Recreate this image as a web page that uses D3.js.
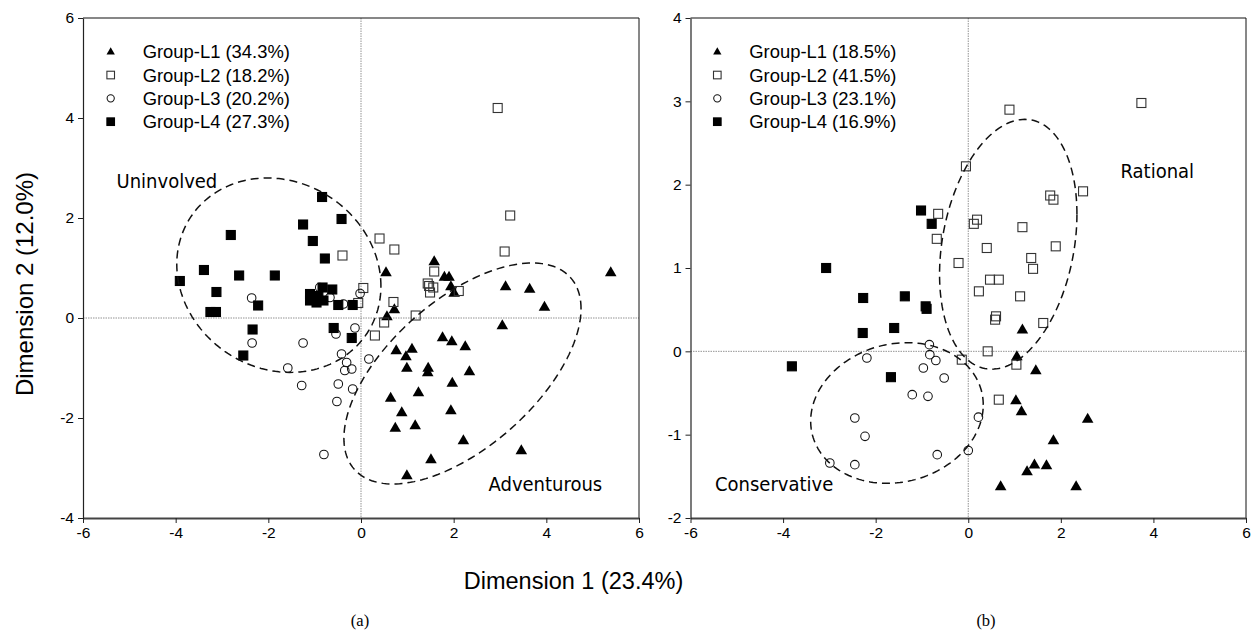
<!DOCTYPE html>
<html><head><meta charset="utf-8">
<script src="https://cdn.jsdelivr.net/npm/d3@7"></script>
<style>
body{margin:0;background:#fff;}
svg{display:block;}
</style></head><body>
<svg id="chart" width="1259" height="633"></svg>
<script>
// ---------- data ----------
const xTicks = [-6, -4, -2, 0, 2, 4, 6];
const yTicksA = [-4, -2, 0, 2, 4, 6];
const yTicksB = [-2, -1, 0, 1, 2, 3, 4];
const groupNames = ["Group-L1", "Group-L2", "Group-L3", "Group-L4"];
const sharesA = ["34.3%", "18.2%", "20.2%", "27.3%"];
const sharesB = ["18.5%", "41.5%", "23.1%", "16.9%"];
const xTitle = "Dimension 1 (23.4%)";
const yTitle = "Dimension 2 (12.0%)";
const panelLabels = ["(a)", "(b)"];

// panel (a) points
const aL1 = [[0.54,0.91],[0.72,0.17],[0.56,0.03],[0.76,-0.65],[0.97,-0.77],[0.99,-1.0],[1.10,-0.62],[0.64,-1.6],[0.88,-1.89],[0.74,-2.2],[1.17,-2.15],[0.99,-3.15],[1.51,-2.83],[1.24,-1.49],[1.45,-1.0],[1.44,-1.09],[1.76,-0.39],[1.96,-0.47],[2.25,-0.57],[2.34,-1.07],[1.97,-1.3],[1.94,-1.85],[2.21,-2.45],[3.46,-2.65],[3.05,-0.15],[3.12,0.63],[3.64,0.58],[3.96,0.22],[5.39,0.91],[1.58,1.13],[1.80,0.82],[1.90,0.82],[1.94,0.63],[2.01,0.5]];
const aL2 = [[2.95,4.2],[3.22,2.05],[3.10,1.33],[-0.40,1.25],[0.40,1.59],[0.72,1.37],[0.05,0.6],[-0.06,0.3],[0.70,0.32],[1.58,0.93],[1.44,0.69],[1.56,0.61],[1.49,0.51],[1.47,0.64],[2.11,0.54],[1.18,0.05],[0.50,-0.09],[0.30,-0.35]];
const aL3 = [[-2.36,0.40],[-2.35,-0.5],[-1.25,-0.5],[-1.58,-1.0],[-1.28,-1.35],[-0.80,-2.73],[-0.89,0.61],[-0.67,0.41],[-0.38,0.28],[-0.02,0.49],[-0.54,-0.32],[-0.13,-0.2],[-0.42,-0.72],[-0.31,-0.89],[-0.2,-1.02],[-0.35,-1.05],[-0.49,-1.32],[-0.18,-1.42],[-0.52,-1.67],[0.17,-0.82]];
const aL4 = [[-0.84,2.42],[-0.42,1.98],[-1.25,1.87],[-2.81,1.66],[-1.04,1.54],[-0.78,1.19],[-3.39,0.96],[-3.91,0.74],[-2.63,0.85],[-1.86,0.85],[-3.12,0.52],[-3.25,0.12],[-3.13,0.12],[-2.22,0.25],[-0.83,0.61],[-0.62,0.57],[-1.10,0.48],[-1.10,0.35],[-0.96,0.31],[-0.81,0.35],[-0.92,0.44],[-0.49,0.26],[-0.18,0.26],[-2.34,-0.23],[-2.54,-0.75],[-0.59,-0.2],[-0.2,-0.4]];

// panel (b) points
const bL1 = [[1.17,0.26],[1.05,-0.06],[1.46,-0.23],[1.03,-0.59],[1.15,-0.72],[2.58,-0.81],[1.84,-1.07],[1.43,-1.36],[1.69,-1.37],[1.27,-1.44],[0.70,-1.62],[2.33,-1.62]];
const bL2 = [[0.89,2.90],[3.74,2.98],[-0.05,2.22],[2.48,1.92],[1.77,1.87],[1.84,1.82],[-0.65,1.65],[0.19,1.58],[0.12,1.53],[1.17,1.49],[-0.68,1.35],[1.89,1.26],[0.40,1.24],[1.36,1.12],[1.40,0.99],[-0.21,1.06],[0.47,0.86],[0.66,0.86],[0.23,0.72],[1.12,0.66],[0.60,0.42],[0.58,0.38],[1.62,0.34],[0.42,0.0],[-0.14,-0.1],[1.04,-0.16],[0.66,-0.58]];
const bL3 = [[-0.84,0.08],[-2.19,-0.08],[-0.83,-0.04],[-0.70,-0.11],[-0.97,-0.2],[-0.52,-0.32],[-1.21,-0.52],[-0.87,-0.54],[-2.45,-0.8],[-2.23,-1.02],[-2.99,-1.34],[-2.45,-1.36],[-0.67,-1.24],[0.22,-0.79],[0.0,-1.19]];
const bL4 = [[-1.02,1.69],[-0.79,1.53],[-1.37,0.66],[-0.92,0.54],[-0.90,0.51],[-1.60,0.28],[-3.07,1.0],[-2.27,0.64],[-2.28,0.22],[-3.81,-0.18],[-1.67,-0.31]];

// ellipses: [centerX, centerY, sdX, sdY, covXY]
const ellipseNamesA = ["Uninvolved", "Adventurous"];
const ellipseParamsA = [[-1.773, 0.856, 2.203, 1.944, -0.483], [2.19, -1.11, 2.559, 2.21, 3.318]];
const ellipseNamesB = ["Rational", "Conservative"];
const ellipseParamsB = [[0.864, 1.285, 1.484, 1.499, 0.537], [-1.54, -0.74, 1.864, 0.844, 0.182]];

// ---------- drawing ----------
const svg = d3.select("#chart");
const FONT = "'Liberation Sans', Arial, sans-serif";
const LABELFONT = "'DejaVu Sans Condensed', 'DejaVu Sans', sans-serif";

function drawMarker(g, kind, px, py, big) {
  if (kind === 0) {
    g.append("path").attr("d", d3.symbol(d3.symbolTriangle, big ? 58 : 30)())
      .attr("transform", `translate(${px},${py + (big ? 0.5 : 0.3)})`).attr("fill", "#000");
  } else if (kind === 1 || kind === 3) {
    const s = big ? 9 : 7.6;
    g.append("rect").attr("x", px - s/2).attr("y", py - s/2).attr("width", s).attr("height", s)
      .attr("fill", kind === 3 ? "#000" : "none").attr("stroke", kind === 3 ? "#000" : "#333").attr("stroke-width", 1.1);
  } else {
    g.append("circle").attr("cx", px).attr("cy", py).attr("r", big ? 4.3 : 3.6)
      .attr("fill", "none").attr("stroke", "#111").attr("stroke-width", 1.05);
  }
}

function drawPanel(opt) {
  const x = d3.scaleLinear().domain([-6, 6]).range([opt.left, opt.right]);
  const y = d3.scaleLinear().domain(opt.yDomain).range([opt.bottom, opt.top]);
  const g = svg.append("g");

  // zero lines
  g.append("line").attr("x1", x(0)).attr("x2", x(0)).attr("y1", opt.top).attr("y2", opt.bottom)
    .attr("stroke", "#777").attr("stroke-width", 0.8).attr("stroke-dasharray", "1.5,1");
  g.append("line").attr("x1", opt.left).attr("x2", opt.right).attr("y1", y(0)).attr("y2", y(0))
    .attr("stroke", "#777").attr("stroke-width", 0.8).attr("stroke-dasharray", "1.5,1");

  // frame top/right
  g.append("line").attr("x1", opt.left).attr("x2", opt.right).attr("y1", opt.top).attr("y2", opt.top)
    .attr("stroke", "#111").attr("stroke-width", 1.2);
  g.append("line").attr("x1", opt.right).attr("x2", opt.right).attr("y1", opt.top).attr("y2", opt.bottom)
    .attr("stroke", "#111").attr("stroke-width", 1);

  // axes
  const fmt = d => String(d);
  const ax = g.append("g").attr("transform", `translate(0,${opt.bottom})`)
    .call(d3.axisBottom(x).tickValues(xTicks).tickSize(5).tickPadding(4).tickSizeOuter(0).tickFormat(fmt));
  ax.select(".domain").attr("stroke", "#444").attr("stroke-width", 2.2);
  const ay = g.append("g").attr("transform", `translate(${opt.left},0)`)
    .call(d3.axisLeft(y).tickValues(opt.yTicks).tickSize(5).tickPadding(4).tickSizeOuter(0).tickFormat(fmt));
  ay.select(".domain").attr("stroke", "#222").attr("stroke-width", 1.2);
  g.selectAll(".tick text").attr("font-family", FONT).attr("font-size", 15.5).attr("fill", "#000");
  g.selectAll(".tick line").attr("stroke", "#222");

  // points
  opt.series.forEach((pts, k) => {
    pts.forEach(p => drawMarker(g, k, x(p[0]), y(p[1]), true));
  });

  // ellipses
  const line = d3.line();
  opt.ellipses.forEach((e) => {
    const [cx, cy, sx, sy, cxy] = e;
    const b = cxy / sx, c = Math.sqrt(sy * sy - b * b);
    const pts = d3.range(0, 361, 2).map(a => {
      const t = a * Math.PI / 180;
      return [x(cx + sx * Math.cos(t)), y(cy + b * Math.cos(t) + c * Math.sin(t))];
    });
    g.append("path").attr("d", line(pts)).attr("fill", "none").attr("stroke", "#111")
      .attr("stroke-width", 1.5).attr("stroke-dasharray", "8,5");
  });

  // ellipse labels
  opt.ellipseLabels.forEach((lab, i) => {
    g.append("text").attr("x", opt.labelPos[i][0]).attr("y", opt.labelPos[i][1])
      .attr("font-family", LABELFONT).attr("font-stretch", "condensed").attr("font-size", 20).attr("fill", "#000").text(lab);
  });

  // legend
  groupNames.forEach((name, k) => {
    const ly = opt.legendY + k * 23.33;
    drawMarker(g, k, opt.legendX, ly, false);
    g.append("text").attr("x", opt.legendX + 32).attr("y", ly).attr("dy", "0.36em")
      .attr("font-family", FONT).attr("font-size", 18.4).attr("fill", "#000")
      .text(`${name} (${opt.shares[k]})`);
  });

  g.append("text").attr("x", opt.capX).attr("y", 626).attr("text-anchor", "middle")
    .attr("font-family", "'Liberation Serif', 'Times New Roman', serif").attr("font-size", 16.5).text(opt.caption);
}

drawPanel({
  left: 83, right: 639, top: 18, bottom: 518, yDomain: [-4, 6], yTicks: yTicksA,
  series: [aL1, aL2, aL3, aL4], shares: sharesA,
  ellipses: ellipseParamsA, ellipseLabels: ellipseNamesA, labelPos: [[116.5, 188], [488.5, 491]],
  legendX: 110.7, legendY: 51.7, caption: panelLabels[0], capX: 360
});
drawPanel({
  left: 690.5, right: 1246, top: 18, bottom: 518, yDomain: [-2, 4], yTicks: yTicksB,
  series: [bL1, bL2, bL3, bL4], shares: sharesB,
  ellipses: ellipseParamsB, ellipseLabels: ellipseNamesB, labelPos: [[1120.5, 177.5], [715, 491]],
  legendX: 717.3, legendY: 51.7, caption: panelLabels[1], capX: 986
});

// axis titles
svg.append("text").attr("x", 573.5).attr("y", 589).attr("text-anchor", "middle")
  .attr("font-family", FONT).attr("font-size", 23.5).attr("fill", "#000").text(xTitle);
svg.append("text").attr("transform", "translate(33,284) rotate(-90)").attr("text-anchor", "middle")
  .attr("font-family", FONT).attr("font-size", 24).attr("fill", "#000").text(yTitle);
</script></body></html>
